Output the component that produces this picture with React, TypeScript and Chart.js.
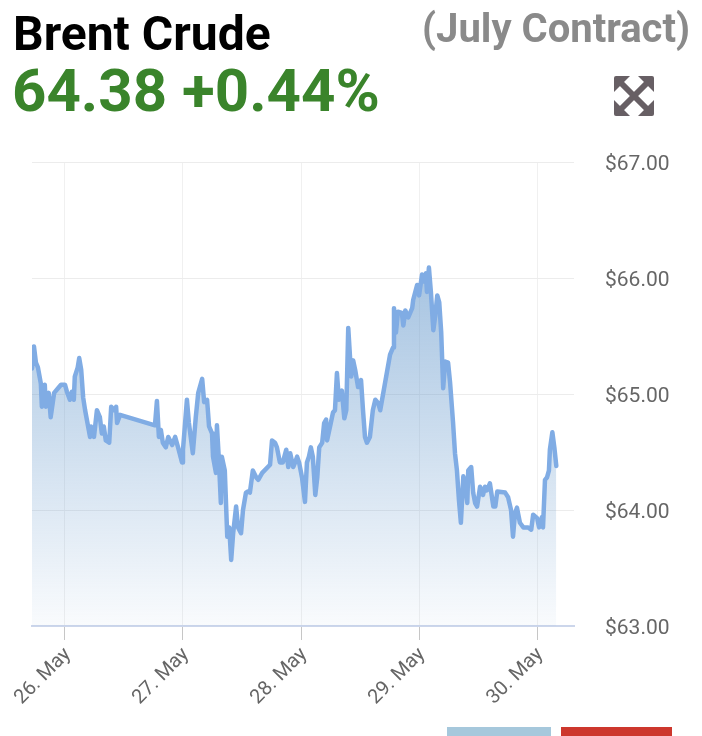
import React, { useEffect, useRef } from "react";
import { Chart, registerables } from "chart.js";

Chart.register(...registerables);

// hours since 26 May 00:00
const hours = [
  -6.7, -6.3, -5.9, -5.5, -4.9, -4.7, -4.1, -3.9, -3.3, -2.9,
  -2.2, -1.4, -0.8, 0, 0.4, 1.0, 1.4, 1.8, 2.0, 2.6,
  2.9, 3.3, 3.7, 4.1, 5.1, 5.3, 5.9, 6.5, 7.1, 7.5,
  7.9, 8.3, 9.0, 9.4, 10.0, 10.4, 10.6, 11.2,
  18.3, 18.7, 19.1, 19.5, 19.9, 20.5, 21.0, 21.8, 22.4, 23.0,
  23.8, 24.0, 24.8, 25.2, 26.0, 26.6, 27.1, 27.9, 28.3, 28.9,
  29.3, 29.9, 30.1, 30.7, 30.9, 31.3, 31.7, 31.9, 32.5, 33.0,
  33.4, 33.8, 34.2, 34.8, 35.2, 35.8, 36.2, 36.8, 37.2, 37.6,
  38.2, 38.9, 39.3, 40.1, 41.7, 42.1, 42.7, 43.1, 43.7, 44.3,
  45.0, 45.4, 45.8, 46.4, 46.8, 47.2, 47.6, 48.2, 48.8, 49.2,
  49.6, 50.0, 50.4, 50.9, 51.3, 51.7, 52.3, 52.7, 53.1, 53.3,
  53.9, 54.5, 54.9, 55.3, 55.7, 56.3, 56.8, 57.2, 57.6, 58.2,
  58.6, 59.0, 59.6, 60.2, 60.6, 61.0, 61.4, 62.0, 62.6, 63.1,
  63.7, 64.1,
  66.1, 66.7, 66.9, 67.3, 67.7, 68.5, 68.8, 69.2, 69.8, 70.6,
  70.8, 71.6, 72.0, 72.6, 73.0, 73.4, 73.6, 74.0, 74.4, 74.9,
  75.3, 75.7, 76.1, 76.5, 76.9, 77.3, 77.9, 78.3, 78.9, 79.3,
  79.7, 80.1, 80.5, 81.0, 81.4, 81.8, 82.0, 82.6, 83.0, 83.4,
  83.8, 84.4, 85.0, 85.4, 85.8, 86.4, 87.1, 87.5, 87.9, 89.5,
  90.1, 90.7, 91.1, 91.5, 91.9, 92.5, 93.2, 94.2, 94.8, 95.2,
  96.0, 96.4, 97.0, 97.2, 97.6, 98.0, 98.4, 98.6, 99.1, 99.5,
  99.9,
];

const prices = [
  65.22, 65.41, 65.27, 65.23, 65.09, 64.89, 65.08, 64.89, 65.01, 64.80,
  65.01, 65.05, 65.08, 65.08, 65.02, 64.95, 65.02, 64.95, 65.15, 65.23,
  65.31, 65.21, 64.97, 64.86, 64.63, 64.72, 64.63, 64.86, 64.80, 64.66,
  64.72, 64.60, 64.58, 64.89, 64.86, 64.89, 64.75, 64.82,
  64.73, 64.94, 64.63, 64.69, 64.58, 64.54, 64.63, 64.56, 64.63, 64.54,
  64.41, 64.52, 64.95, 64.75, 64.49, 64.80, 65.01, 65.13, 64.93, 64.95,
  64.72, 64.66, 64.46, 64.32, 64.73, 64.43, 64.06, 64.46, 64.34, 63.77,
  63.85, 63.57, 63.80, 64.03, 63.85, 63.80, 64.00, 64.15, 64.16, 64.15,
  64.34, 64.28, 64.26, 64.32, 64.39, 64.60, 64.58, 64.54, 64.41, 64.41,
  64.52, 64.37, 64.49, 64.37, 64.41, 64.46, 64.41, 64.28, 64.07, 64.41,
  64.46, 64.54, 64.46, 64.13, 64.28, 64.54, 64.58, 64.75, 64.78, 64.60,
  64.72, 64.84, 64.86, 65.18, 64.95, 65.03, 64.79, 64.86, 65.57, 65.15,
  65.29, 65.21, 65.06, 65.12, 64.86, 64.63, 64.58, 64.63, 64.86, 64.95,
  64.92, 64.86,
  65.34, 65.40, 65.74, 65.53, 65.71, 65.70, 65.59, 65.72, 65.66, 65.74,
  65.81, 65.94, 65.85, 66.03, 65.97, 66.04, 65.88, 66.09, 65.88, 65.55,
  65.68, 65.85, 65.79, 65.53, 65.05, 65.28, 65.27, 65.10, 64.76, 64.49,
  64.34, 64.09, 63.89, 64.29, 64.23, 64.06, 64.34, 64.37, 64.15, 64.06,
  64.03, 64.20, 64.13, 64.20, 64.17, 64.23, 64.03, 64.03, 64.16, 64.15,
  64.11, 64.00, 63.77, 63.97, 64.02, 63.89, 63.85, 63.85, 63.83, 63.96,
  63.93, 63.85, 63.94, 63.85, 64.26, 64.28, 64.34, 64.52, 64.67, 64.54,
  64.38,
];

const tickHours = [0, 24, 48, 72, 96];
const tickLabels = ["26. May", "27. May", "28. May", "29. May", "30. May"];
const yTicks = [63, 64, 65, 66, 67];

const titleText = "Brent Crude";
const contractText = "(July Contract)";
const priceText = "64.38 +0.44%";

export default function App() {
  const canvasRef = useRef<HTMLCanvasElement | null>(null);

  useEffect(() => {
    if (!canvasRef.current) return;
    const points = hours.map((h, i) => ({ x: h, y: prices[i] }));
    const chart = new Chart(canvasRef.current, {
      type: "line",
      data: {
        datasets: [
          {
            data: points,
            borderColor: "#80ace4",
            borderWidth: 4.5,
            borderJoinStyle: "round",
            borderCapStyle: "round",
            pointRadius: 0,
            tension: 0,
            fill: "start",
            backgroundColor: (ctx: any) => {
              const c = ctx.chart;
              const ca = c.chartArea;
              if (!ca) return "rgba(105,155,205,0.4)";
              const g = c.ctx.createLinearGradient(0, ca.top, 0, ca.bottom);
              g.addColorStop(0, "rgba(105,155,205,0.76)");
              g.addColorStop(1, "rgba(105,155,205,0.04)");
              return g;
            },
          },
        ],
      },
      options: {
        animation: false,
        responsive: false,
        devicePixelRatio: 1,
        layout: { padding: { top: 162, left: 32, right: 0, bottom: 0 } },
        plugins: { legend: { display: false }, tooltip: { enabled: false } },
        scales: {
          x: {
            type: "linear",
            min: -6.7,
            max: 103.5,
            afterBuildTicks: (s: any) => {
              s.ticks = tickHours.map((v) => ({ value: v }));
            },
            afterFit: (s: any) => {
              s.height = 110;
            },
            grid: {
              color: "#f0f0f0",
              tickColor: "#c6c6c6",
              tickLength: 14,
              lineWidth: 1,
            },
            border: { color: "#ccd6eb", width: 2 },
            ticks: {
              autoSkip: false,
              minRotation: 45,
              maxRotation: 45,
              padding: 3,
              labelOffset: 3,
              color: "#666666",
              font: { family: "Roboto", size: 20 },
              callback: (v: any) => {
                const i = tickHours.indexOf(Number(v));
                return i >= 0 ? tickLabels[i] : "";
              },
            },
          },
          y: {
            position: "right",
            min: 63,
            max: 67,
            afterBuildTicks: (s: any) => {
              s.ticks = yTicks.map((v) => ({ value: v }));
            },
            afterFit: (s: any) => {
              s.width = 128;
            },
            grid: { color: "#ececec", drawTicks: false, lineWidth: 1 },
            border: { display: false },
            ticks: {
              padding: 31,
              labelOffset: 3,
              color: "#666666",
              font: { family: "Roboto", size: 21 },
              callback: (v: any) => "$" + Number(v).toFixed(2),
            },
          },
        },
      },
    } as any);
    return () => chart.destroy();
  }, []);

  const font = "Roboto, 'Noto Sans', sans-serif";

  return (
    <div
      style={{
        position: "absolute",
        left: 0,
        top: 0,
        width: 702,
        height: 736,
        overflow: "hidden",
        background: "#ffffff",
        fontFamily: font,
      }}
    >
      <canvas
        ref={canvasRef}
        width={702}
        height={736}
        style={{ position: "absolute", left: 0, top: 0, width: 702, height: 736 }}
      />
      <div
        style={{
          position: "absolute",
          left: 13,
          top: 10,
          fontSize: 48,
          lineHeight: "48px",
          fontWeight: 700,
          color: "#000000",
          whiteSpace: "nowrap",
        }}
      >
        {titleText}
      </div>
      <div
        style={{
          position: "absolute",
          right: 12,
          top: 9,
          fontSize: 40,
          lineHeight: "40px",
          fontWeight: 700,
          color: "#8a8a8a",
          whiteSpace: "nowrap",
        }}
      >
        {contractText}
      </div>
      <div
        style={{
          position: "absolute",
          left: 12,
          top: 61,
          fontSize: 60,
          lineHeight: "60px",
          fontWeight: 700,
          color: "#3a842b",
          whiteSpace: "nowrap",
        }}
      >
        {priceText}
      </div>
      <svg
        width={42}
        height={42}
        viewBox="0 0 42 42"
        style={{ position: "absolute", left: 613, top: 75 }}
      >
        <g fill="#675f64" stroke="none">
          <path d="M3 1 H17 L1 17 V3 Q1 1 3 1 Z" />
          <path d="M39 1 H25 L41 17 V3 Q41 1 39 1 Z" />
          <path d="M3 41 H17 L1 25 V39 Q1 41 3 41 Z" />
          <path d="M39 41 H25 L41 25 V39 Q41 41 39 41 Z" />
        </g>
        <g stroke="#675f64" strokeWidth={6} strokeLinecap="butt">
          <line x1={6} y1={6} x2={36} y2={36} />
          <line x1={36} y1={6} x2={6} y2={36} />
        </g>
      </svg>
      <div
        style={{
          position: "absolute",
          left: 447,
          top: 727,
          width: 104,
          height: 9,
          background: "#a6c8dc",
        }}
      />
      <div
        style={{
          position: "absolute",
          left: 561,
          top: 727,
          width: 111,
          height: 9,
          background: "#cd372d",
        }}
      />
    </div>
  );
}
